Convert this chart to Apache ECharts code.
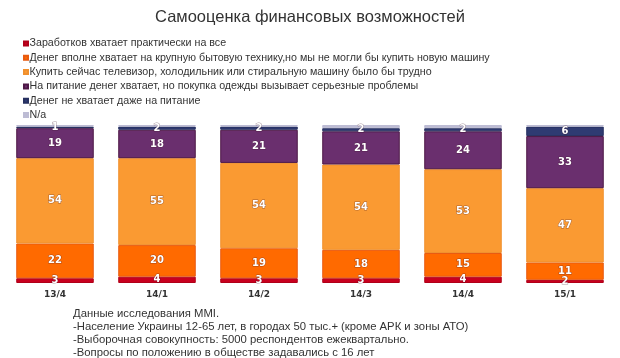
<!DOCTYPE html>
<html><head><meta charset="utf-8">
<script src="https://cdn.jsdelivr.net/npm/echarts@6/dist/echarts.min.js"></script>
<style>html,body{margin:0;padding:0;background:#fff}#c{width:620px;height:358px}</style>
</head><body><div id="c"></div>
<script>
var categories = ['13/4','14/1','14/2','14/3','14/4','15/1'];
var seriesNames = [
  'Заработков хватает практически на все',
  'Денег вполне хватает на крупную бытовую технику,но мы не могли бы купить новую машину',
  'Купить сейчас телевизор, холодильник или стиральную машину было бы трудно',
  'На питание денег хватает, но покупка одежды вызывает серьезные проблемы',
  'Денег не хватает даже на питание',
  'N/a'
];
var allEnough   = [3, 4, 3, 3, 4, 2];
var appliances  = [22, 20, 19, 18, 15, 11];
var tvHard      = [54, 55, 54, 54, 53, 47];
var clothesHard = [19, 18, 21, 21, 24, 33];
var noFood      = [1, 2, 2, 2, 2, 6];
var na          = [1, 1, 1, 2, 2, 1];
var footerLines = [
  'Данные исследования MMI.',
  '-Население Украины 12-65 лет, в городах 50 тыс.+ (кроме АРК и зоны АТО)',
  '-Выборочная совокупность: 5000 респондентов ежеквартально.',
  '-Вопросы по положению в обществе задавались с 16 лет'
];

var colors = ['#C8001E', '#FF6A00', '#FA9A32', '#6A2F6E', '#2F3B72', '#BDBCD4'];
var borders = ['#B00018', '#E85A10', '#F0902E', '#4E1846', '#263060', '#BDBCD4'];
var values = [allEnough, appliances, tvHard, clothesHard, noFood, na];
var txtFont = 'Liberation Sans';

var series = values.map(function (v, i) {
  return {
    name: seriesNames[i],
    type: 'bar',
    stack: 'total',
    barWidth: '76%',
    data: v,
    itemStyle: { color: colors[i], borderColor: borders[i], borderWidth: 1 },
    label: {
      show: i < 5,
      position: 'inside',
      color: '#fff',
      fontFamily: 'DejaVu Sans',
      fontWeight: 'bold',
      fontSize: 10,
      textBorderColor: 'rgba(60,20,40,0.45)',
      textBorderWidth: 1
    }
  };
});

var chart = echarts.init(document.getElementById('c'));
chart.setOption({
  animation: false,
  title: {
    text: 'Самооценка финансовых возможностей',
    left: 'center', top: 4,
    textStyle: { fontFamily: 'Liberation Sans', fontWeight: 'normal', fontSize: 16.5, color: '#333' }
  },
  legend: {
    orient: 'vertical', left: 18, top: 33,
    itemWidth: 4, itemHeight: 4, itemGap: 3.3,
    icon: 'rect',
    textStyle: { fontFamily: txtFont, fontSize: 10.7, lineHeight: 11, color: '#333', padding: [0, 0, 0, -3.5] },
    data: seriesNames
  },
  grid: { left: 4, right: 4, top: 125, bottom: 75 },
  xAxis: {
    type: 'category', data: categories,
    axisLine: { show: false }, axisTick: { show: false },
    axisLabel: { fontFamily: 'DejaVu Sans', fontWeight: 'bold', fontSize: 9, color: '#333', margin: 7 }
  },
  yAxis: { type: 'value', min: 0, max: 100, show: false },
  graphic: footerLines.map(function (t, i) {
    return {
      type: 'text', left: 73, top: 308 + i * 13.2,
      style: { text: t, font: '11.3px "' + txtFont + '"', fill: '#333' }
    };
  }),
  series: series
});
</script></body></html>
